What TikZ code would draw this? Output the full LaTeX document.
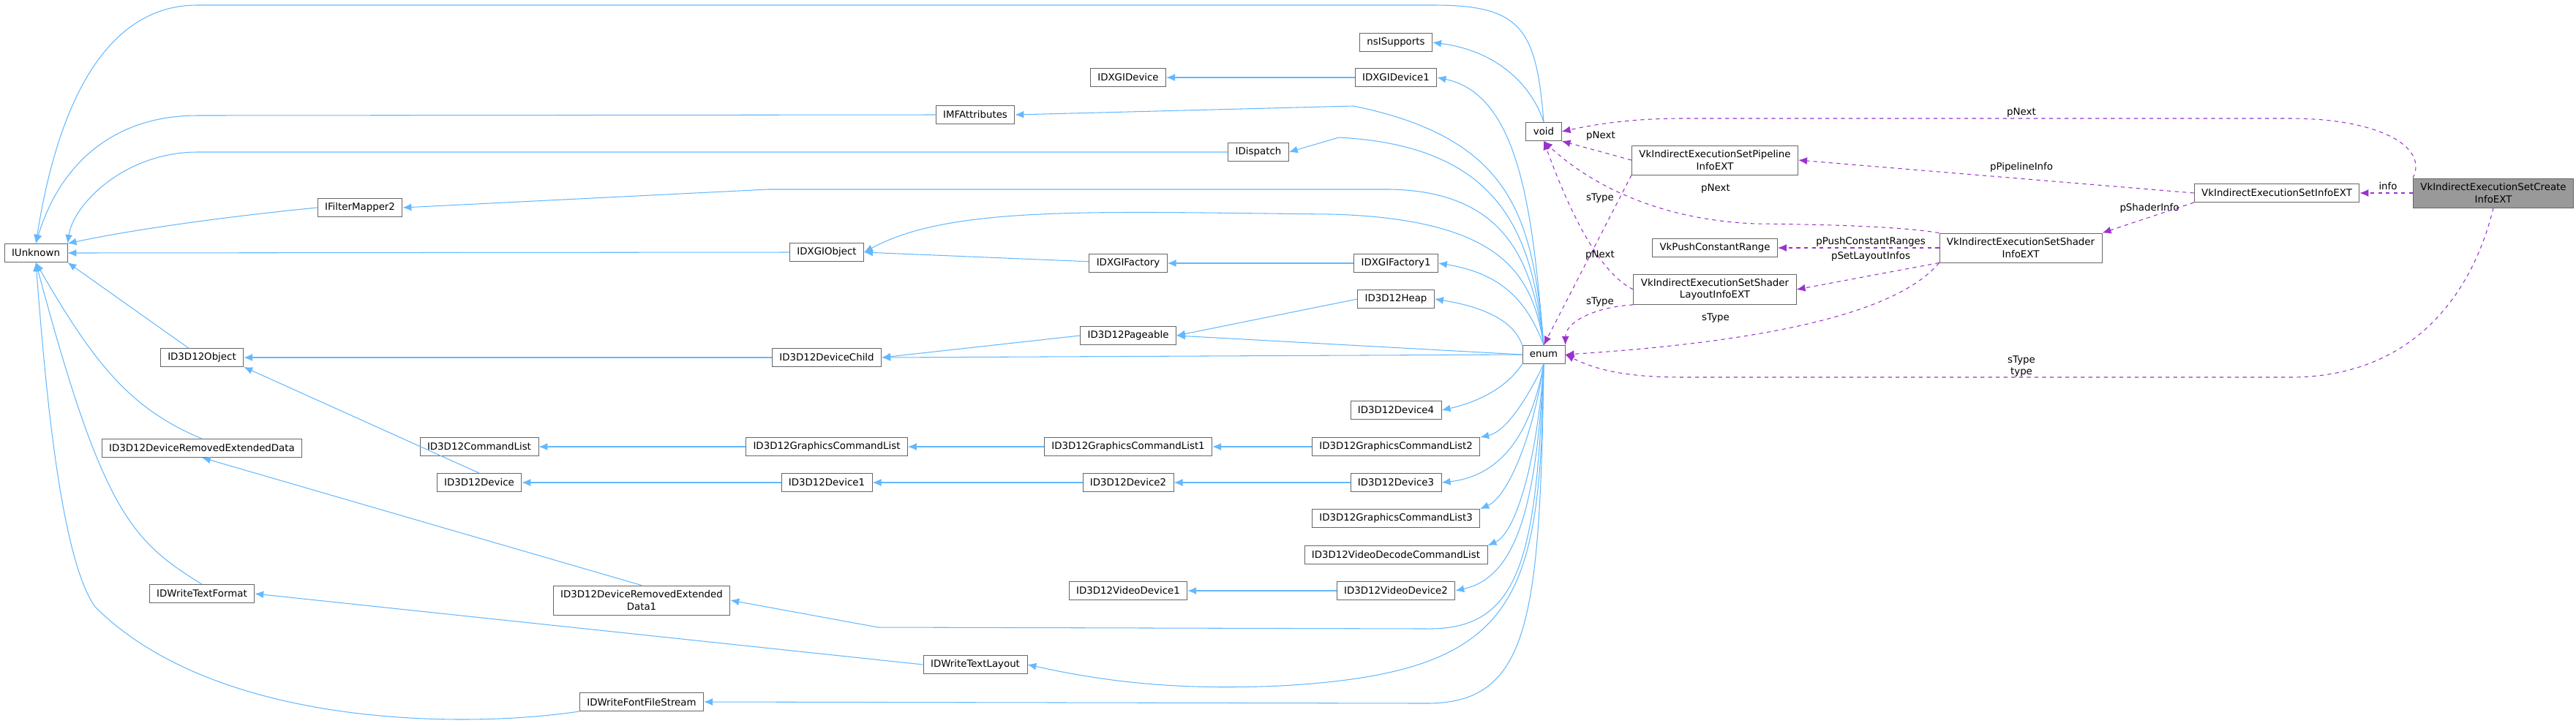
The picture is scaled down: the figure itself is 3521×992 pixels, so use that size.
\documentclass[tikz,border=0pt]{standalone}
\usepackage{fontspec}
\setmainfont{DejaVu Sans}
\usetikzlibrary{arrows.meta}
\definecolor{eb}{HTML}{63B8FF}
\definecolor{ep}{HTML}{9A32CD}
\definecolor{bd}{HTML}{666666}
\begin{document}
\begin{tikzpicture}[x=0.02cm,y=-0.02cm,
  every node/.style={font=\fontsize{7.6}{9.2}\selectfont},
  box/.style={draw=bd,fill=white,line width=0.5pt,minimum height=0.5cm,inner xsep=0.2cm,align=center},
  box2/.style={box,minimum height=0.8cm},
  inh/.style={draw=eb,line width=0.6pt,-{Latex[length=0.24cm,width=0.2cm]}},
  use/.style={draw=ep,line width=0.6pt,dashed,-{Latex[length=0.24cm,width=0.2cm]}},
  lbl/.style={inner sep=1pt}]
\useasboundingbox (0,0) rectangle (3521,992);
% nodes
\node[box] (IUnknown) at (49,346) {IUnknown};
\node[box] (IFilterMapper2) at (492,284) {IFilterMapper2};
\node[box] (IDXGIObject) at (1130,345) {IDXGIObject};
\node[box] (ID3D12Object) at (276,489) {ID3D12Object};
\node[box] (ID3D12DeviceChild) at (1130,489) {ID3D12DeviceChild};
\node[box] (DRED) at (276,613) {ID3D12DeviceRemovedExtendedData};
\node[box] (CmdList) at (655,611) {ID3D12CommandList};
\node[box] (GCL) at (1130,611) {ID3D12GraphicsCommandList};
\node[box] (Dev) at (655,660) {ID3D12Device};
\node[box] (Dev1) at (1130,660) {ID3D12Device1};
\node[box] (TextFormat) at (276,812) {IDWriteTextFormat};
\node[box2] (DRED1) at (877,821) {ID3D12DeviceRemovedExtended\\Data1};
\node[box] (FontStream) at (877,960) {IDWriteFontFileStream};
\node[box] (nsISupports) at (1908,58) {nsISupports};
\node[box] (IDXGIDevice) at (1542,106) {IDXGIDevice};
\node[box] (IDXGIDevice1) at (1908,106) {IDXGIDevice1};
\node[box] (IMFAttributes) at (1333,157) {IMFAttributes};
\node[box] (void) at (2110,180) {void};
\node[box] (IDispatch) at (1720,208) {IDispatch};
\node[box] (IDXGIFactory) at (1542,360) {IDXGIFactory};
\node[box] (IDXGIFactory1) at (1908,360) {IDXGIFactory1};
\node[box] (Heap) at (1908,409) {ID3D12Heap};
\node[box] (Pageable) at (1542,459) {ID3D12Pageable};
\node[box] (enum) at (2110,485) {enum};
\node[box] (Dev4) at (1908,561) {ID3D12Device4};
\node[box] (GCL2) at (1908,611) {ID3D12GraphicsCommandList2};
\node[box] (GCL1) at (1542,611) {ID3D12GraphicsCommandList1};
\node[box] (Dev2) at (1542,660) {ID3D12Device2};
\node[box] (Dev3) at (1908,660) {ID3D12Device3};
\node[box] (GCL3) at (1908,709) {ID3D12GraphicsCommandList3};
\node[box] (VDCL) at (1908,759) {ID3D12VideoDecodeCommandList};
\node[box] (VD1) at (1542,808) {ID3D12VideoDevice1};
\node[box] (VD2) at (1908,808) {ID3D12VideoDevice2};
\node[box] (TextLayout) at (1333,909) {IDWriteTextLayout};
\node[box2] (Pipe) at (2344,219) {VkIndirectExecutionSetPipeline\\InfoEXT};
\node[box] (SetInfo) at (3112,264) {VkIndirectExecutionSetInfoEXT};
\node[box2,fill=black!40] (Create) at (3408,264) {VkIndirectExecutionSetCreate\\InfoEXT};
\node[box2] (Shader) at (2762,339) {VkIndirectExecutionSetShader\\InfoEXT};
\node[box] (Push) at (2344,339) {VkPushConstantRange};
\node[box2] (Layout) at (2344,396) {VkIndirectExecutionSetShader\\LayoutInfoEXT};
% blue inheritance edges
\draw[inh] (void.north) .. controls (2100,40) and (2080,7) .. (1960,7) -- (270,7) .. controls (120,7) and (70,200) .. (IUnknown.north);
\draw[inh] (IMFAttributes.west) -- (270,158) .. controls (150,158) and (80,230) .. (IUnknown.north);
\draw[inh] (IDispatch.west) -- (270,208) .. controls (170,208) and (100,280) .. (IUnknown.north east);
\draw[inh] (IFilterMapper2.west) .. controls (350,292) and (200,310) .. (IUnknown.north east);
\draw[inh] (IDXGIObject.west) -- (IUnknown.east);
\draw[inh] (ID3D12Object) -- (IUnknown.south east);
\draw[inh] (DRED.north) .. controls (180,560) and (130,500) .. (IUnknown.south);
\draw[inh] (TextFormat.north) .. controls (180,740) and (140,700) .. (IUnknown.south);
\draw[inh] (FontStream.south west) .. controls (650,995) and (300,1000) .. (130,830) .. controls (80,760) and (60,500) .. (IUnknown.south);
\draw[inh] (void.north) .. controls (2095,120) and (2050,70) .. (nsISupports.east);
\draw[inh] (IDXGIDevice1) -- (IDXGIDevice);
\draw[inh] (enum.north) .. controls (2095,300) and (2080,130) .. (IDXGIDevice1.east);
\draw[inh] (enum.north) .. controls (2095,300) and (2070,190) .. (1850,145) -- (IMFAttributes.east);
\draw[inh] (enum.north) .. controls (2095,330) and (2060,200) .. (1830,188) -- (IDispatch.east);
\draw[inh] (enum.north) .. controls (2095,360) and (2060,262) .. (1900,259) -- (1050,259) -- (IFilterMapper2.east);
\draw[inh] (enum.north) .. controls (2095,380) and (2060,300) .. (1820,293) .. controls (1500,290) and (1300,280) .. (IDXGIObject.east);
\draw[inh] (IDXGIFactory) -- (IDXGIObject.east);
\draw[inh] (IDXGIFactory1) -- (IDXGIFactory);
\draw[inh] (enum.north) .. controls (2090,420) and (2060,375) .. (IDXGIFactory1.east);
\draw[inh] (Heap.west) -- (Pageable.east);
\draw[inh] (enum.north west) .. controls (2070,440) and (2030,420) .. (Heap.east);
\draw[inh] (enum.west) -- (Pageable.east);
\draw[inh] (Pageable.west) -- (ID3D12DeviceChild.east);
\draw[inh] (enum.west) -- (ID3D12DeviceChild.east);
\draw[inh] (ID3D12DeviceChild) -- (ID3D12Object);
\draw[inh] (Dev.north) -- (ID3D12Object.south east);
\draw[inh] (enum.south west) .. controls (2060,530) and (2020,550) .. (Dev4.east);
\draw[inh] (GCL) -- (CmdList);
\draw[inh] (GCL1) -- (GCL);
\draw[inh] (GCL2) -- (GCL1);
\draw[inh] (enum.south) .. controls (2090,540) and (2060,590) .. (GCL2.north east);
\draw[inh] (Dev1) -- (Dev);
\draw[inh] (Dev2) -- (Dev1);
\draw[inh] (Dev3) -- (Dev2);
\draw[inh] (enum.south) .. controls (2095,580) and (2060,650) .. (Dev3.east);
\draw[inh] (enum.south) .. controls (2095,600) and (2060,680) .. (GCL3.north east);
\draw[inh] (enum.south) .. controls (2100,640) and (2070,730) .. (VDCL.north east);
\draw[inh] (VD2) -- (VD1);
\draw[inh] (enum.south) .. controls (2100,700) and (2070,790) .. (VD2.east);
\draw[inh] (DRED1.north) -- (DRED.south);
\draw[inh] (enum.south) .. controls (2100,760) and (2080,862) .. (1950,860) -- (1200,858) -- (DRED1.east);
\draw[inh] (TextLayout.west) -- (TextFormat.east);
\draw[inh] (enum.south) .. controls (2105,820) and (2080,920) .. (1750,938) .. controls (1600,945) and (1500,930) .. (TextLayout.east);
\draw[inh] (enum.south) .. controls (2105,850) and (2090,962) .. (1950,962) -- (FontStream.east);
% purple usage edges
\draw[use] (Create.north west) .. controls (3320,200) and (3250,162) .. (3130,162) -- (2300,162) .. controls (2230,162) and (2180,170) .. (void.east);
\node[lbl] at (2763,154) {pNext};
\draw[use] (Pipe.west) -- (void.south east);
\node[lbl] at (2188,186) {pNext};
\draw[use] (Pipe.south west) -- (enum.north);
\node[lbl] at (2187,271) {sType};
\draw[use] (Shader.north west) .. controls (2600,310) and (2500,307) .. (2400,306) .. controls (2250,300) and (2160,240) .. (void.south);
\node[lbl] at (2345,258) {pNext};
\draw[use] (Layout.west) .. controls (2200,380) and (2160,330) .. (void.south);
\node[lbl] at (2187,349) {pNext};
\draw[use] (Layout.south west) .. controls (2180,420) and (2140,440) .. (enum.north east);
\node[lbl] at (2187,413) {sType};
\draw[use] (Shader.south west) .. controls (2600,420) and (2450,465) .. (enum.east);
\node[lbl] at (2345,435) {sType};
\draw[use] (Create.south) .. controls (3380,400) and (3300,516) .. (3130,516) -- (2300,516) .. controls (2220,516) and (2180,505) .. (enum.east);
\node[lbl,align=center] at (2763,501) {sType\\type};
\draw[use] (SetInfo.west) -- (Pipe.east);
\node[lbl] at (2763,229) {pPipelineInfo};
\draw[use] (Create.west) -- (SetInfo.east);
\node[lbl] at (3264,255) {info};
\draw[use] (SetInfo.south west) -- (Shader.north east);
\node[lbl] at (2938,285) {pShaderInfo};
\draw[use] (Shader.west) -- (Push.east);
\node[lbl] at (2557,331) {pPushConstantRanges};
\draw[use] (Shader.south west) -- (Layout.east);
\node[lbl] at (2557,351) {pSetLayoutInfos};
\end{tikzpicture}
\end{document}
